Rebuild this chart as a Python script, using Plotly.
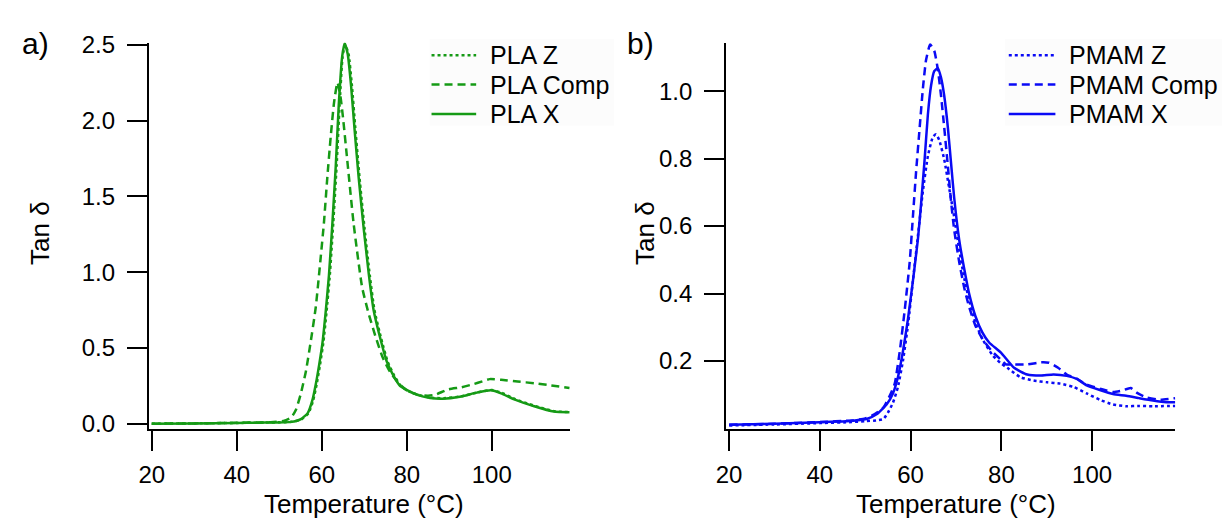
import plotly.graph_objects as go

# ---------------- data ----------------
# Panel a) PLA
pla_x_t = [20, 30, 40, 45, 50, 52.8, 54, 55.1, 56.7, 57.8, 58.6, 59.4, 60.2, 60.9, 61.7, 62.5,
           63.3, 64.0, 64.8, 65.4, 66.1, 66.9, 67.7, 68.7, 69.9, 71.1, 72.2, 73.8, 75.3, 76.9,
           78.4, 80.2, 82.5, 85.5, 88.5, 92.5, 96.5, 99.8, 102.2, 105.3, 110, 114.6, 118.3]
pla_x_v = [0.0, 0.002, 0.005, 0.007, 0.008, 0.012, 0.018, 0.03, 0.07, 0.155, 0.26, 0.39, 0.54, 0.73,
           0.98, 1.32, 1.70, 2.10, 2.42, 2.51, 2.44, 2.23, 1.95, 1.62, 1.28, 0.98, 0.75, 0.56, 0.41,
           0.315, 0.25, 0.22, 0.19, 0.17, 0.165, 0.178, 0.205, 0.22, 0.2, 0.16, 0.115, 0.08, 0.075]

pla_z_t = [20, 30, 40, 50, 53, 55.3, 56.9, 58.0, 58.8, 59.6, 60.4, 61.1, 61.9, 62.7, 63.5, 64.2,
           64.9, 65.5, 66.3, 67.1, 67.9, 68.9, 70.1, 71.3, 72.4, 74.0, 75.5, 77.1, 78.6, 80.4, 82.7,
           85.7, 88.7, 92.7, 96.7, 100, 102.4, 105.5, 110.2, 114.8, 118.3]
pla_z_v = [0.0, 0.002, 0.005, 0.009, 0.013, 0.03, 0.07, 0.155, 0.26, 0.39, 0.54, 0.73, 0.98, 1.32,
           1.70, 2.10, 2.42, 2.50, 2.44, 2.23, 1.95, 1.62, 1.28, 0.98, 0.75, 0.56, 0.41, 0.315, 0.25,
           0.215, 0.19, 0.172, 0.168, 0.18, 0.207, 0.222, 0.203, 0.162, 0.117, 0.082, 0.076]

pla_comp_t = [20, 30, 40, 48, 51, 52.8, 53.9, 55.1, 56.3, 57.4, 58.6, 59.8, 60.5, 61.3, 62.1, 62.9,
              63.7, 64.4, 65.0, 66.0, 67.5, 69.5, 71.0, 72.6, 74.3, 76.1, 78.0, 80.0, 82.7, 85.0,
              86.6, 89.7, 92.8, 95.6, 97.9, 99.5, 102.2, 106.1, 110, 113.9, 118.3]
pla_comp_v = [0.0, 0.002, 0.006, 0.01, 0.018, 0.04, 0.09, 0.2, 0.35, 0.54, 0.77, 1.11, 1.32, 1.62,
              1.89, 2.12, 2.25, 2.16, 2.02, 1.74, 1.32, 0.9, 0.73, 0.58, 0.44, 0.34, 0.27, 0.22,
              0.19, 0.185, 0.19, 0.226, 0.24, 0.26, 0.28, 0.294, 0.29, 0.278, 0.267, 0.253, 0.235]

# Panel b) PMAM
pmam_x_t = [20, 30, 40, 45, 47.3, 50.3, 52.5, 54.7, 56.1, 57.2, 58.3, 59.4, 60.5, 61.6, 62.3, 63.1,
            63.8, 64.5, 65.2, 66.0, 66.7, 67.4, 68.2, 68.9, 69.6, 70.7, 71.8, 72.9, 74.3, 75.8,
            77.3, 79.9, 82.8, 85.7, 88.6, 91.5, 94.4, 96.6, 98.8, 101.7, 104.6, 107.5, 110.4,
            113.4, 116.3, 118.3]
pmam_x_v = [0.011, 0.014, 0.0185, 0.021, 0.023, 0.028, 0.042, 0.071, 0.104, 0.152, 0.228, 0.323,
            0.437, 0.56, 0.665, 0.80, 0.93, 1.016, 1.059, 1.068, 1.04, 0.987, 0.893, 0.788, 0.684,
            0.56, 0.474, 0.399, 0.332, 0.285, 0.255, 0.225, 0.18, 0.16, 0.157, 0.16, 0.156, 0.147,
            0.128, 0.114, 0.102, 0.097, 0.09, 0.083, 0.078, 0.078]

pmam_comp_t = [20, 30, 40, 47, 50, 52, 54, 55.5, 56.5, 57.6, 58.7, 59.8, 60.5, 61.2, 62.0, 62.7,
               63.4, 64.3, 65.2, 66.0, 66.7, 67.4, 68.2, 68.9, 69.6, 70.7, 71.8, 72.9, 74.3, 75.8,
               78.0, 79.8, 81.0, 82.8, 85.7, 88.6, 90.5, 92.5, 94.4, 96.6, 98.8, 101.7, 104.6,
               106.5, 108.5, 110, 112, 115, 118.3]
pmam_comp_v = [0.011, 0.014, 0.019, 0.024, 0.03, 0.042, 0.062, 0.1, 0.133, 0.228, 0.351, 0.494,
               0.627, 0.76, 0.893, 1.007, 1.092, 1.138, 1.12, 1.064, 0.987, 0.893, 0.779, 0.674,
               0.589, 0.494, 0.418, 0.36, 0.304, 0.266, 0.228, 0.205, 0.19, 0.19, 0.19, 0.196,
               0.195, 0.18, 0.16, 0.148, 0.13, 0.118, 0.108, 0.112, 0.12, 0.105, 0.092, 0.085, 0.09]

pmam_z_t = [20, 30, 40, 47, 50, 52.4, 54, 55.0, 56.1, 57.2, 58.3, 59.4, 60.5, 61.6, 62.7, 63.8,
            64.9, 65.6, 66.3, 67.4, 68.5, 69.6, 70.7, 71.8, 72.9, 74.3, 75.8, 78.0, 79.8, 81.3,
            84.2, 87.1, 90.1, 93.0, 95.9, 98.8, 101.7, 104.6, 107.5, 110.4, 113.4, 118.3]
pmam_z_v = [0.009, 0.012, 0.016, 0.019, 0.022, 0.024, 0.028, 0.047, 0.076, 0.123, 0.2, 0.304,
            0.437, 0.57, 0.703, 0.807, 0.864, 0.872, 0.855, 0.798, 0.712, 0.627, 0.531, 0.446,
            0.38, 0.313, 0.266, 0.218, 0.194, 0.18, 0.152, 0.142, 0.137, 0.133, 0.123, 0.104,
            0.085, 0.071, 0.066, 0.067, 0.066, 0.067]

x_ticks = [20, 40, 60, 80, 100]
y_ticks_a = [0.0, 0.5, 1.0, 1.5, 2.0, 2.5]
y_ticks_b = [0.2, 0.4, 0.6, 0.8, 1.0]

names_a = ["PLA Z", "PLA Comp", "PLA X"]
names_b = ["PMAM Z", "PMAM Comp", "PMAM X"]

# ---------------- styling ----------------
GREEN = "#159a15"
BLUE = "#0a0af5"
FONT = "Liberation Sans, Arial, sans-serif"
W, H = 1225, 525
DASHES = ["3px,3px", "8px,5px", "solid"]
LW = 2.5

fig = go.Figure()

def add(t, v, name, color, dash, xa, ya):
    fig.add_trace(go.Scatter(
        x=t, y=v, mode="lines", name=name, xaxis=xa, yaxis=ya, showlegend=False,
        line=dict(color=color, width=LW, dash=dash, shape="spline", smoothing=0.5),
        hoverinfo="skip"))

series_a = [(pla_z_t, pla_z_v), (pla_comp_t, pla_comp_v), (pla_x_t, pla_x_v)]
series_b = [(pmam_z_t, pmam_z_v), (pmam_comp_t, pmam_comp_v), (pmam_x_t, pmam_x_v)]
for (t, v), n, d in zip(series_a, names_a, DASHES):
    add(t, v, n, GREEN, d, "x", "y")
for (t, v), n, d in zip(series_b, names_b, DASHES):
    add(t, v, n, BLUE, d, "x2", "y2")

ax_common = dict(showline=True, linecolor="black", linewidth=2, ticks="outside", ticklen=20,
                 tickwidth=2, tickcolor="black", showgrid=False, zeroline=False,
                 tickfont=dict(family=FONT, size=24, color="black"))

ydom = [1 - 433 / H, 1 - 32 / H]
fig.update_layout(
    width=W, height=H, margin=dict(l=0, r=0, t=0, b=0),
    paper_bgcolor="white", plot_bgcolor="white",
    font=dict(family=FONT, color="black"),
    xaxis=dict(domain=[140 / W, 564.5 / W], range=[19.32, 118.39], anchor="y",
               tickvals=x_ticks, ticklabelstandoff=4, **ax_common),
    yaxis=dict(domain=ydom, range=[-0.0317, 2.5127], anchor="x",
               tickvals=y_ticks_a, tickformat=".1f", ticklabelstandoff=7, **ax_common),
    xaxis2=dict(domain=[722 / W, 1175 / W], range=[19.34, 118.35], anchor="y2",
                tickvals=x_ticks, ticklabelstandoff=4, **ax_common),
    yaxis2=dict(domain=ydom, range=[0.0, 1.1433], anchor="x2",
                tickvals=y_ticks_b, tickformat=".1f", ticklabelstandoff=7, **ax_common),
)

# ---------------- legends (drawn as key lines + text) ----------------
def legend(box, x0, x1, xt, names, color):
    fig.add_shape(type="rect", xref="paper", yref="paper", x0=box[0] / W, x1=box[2] / W,
                  y0=1 - box[3] / H, y1=1 - box[1] / H, fillcolor="#fcfcfc",
                  line=dict(width=0), layer="below")
    for i, (n, d) in enumerate(zip(names, DASHES)):
        yp = 1 - (45 + 30.5 * i) / H
        fig.add_shape(type="line", xref="paper", yref="paper", x0=x0 / W, x1=x1 / W, y0=yp, y1=yp,
                      line=dict(color=color, width=LW, dash=d))
        fig.add_annotation(text=n, x=xt / W, y=yp, xref="paper", yref="paper", xanchor="left",
                           yanchor="middle", showarrow=False,
                           font=dict(family=FONT, size=25, color="black"))

legend((423, 28, 609, 118), 425, 470, 482, names_a, GREEN)
legend((1003, 28, 1222, 118), 1007, 1054, 1066, names_b, BLUE)

ann = [
    dict(text="a)", x=10 / W, y=1 - 33 / H, xanchor="left", yanchor="middle", size=30),
    dict(text="b)", x=620 / W, y=1 - 33 / H, xanchor="left", yanchor="middle", size=30),
    dict(text="Temperature (°C)", x=357 / W, y=1 - 511 / H, xanchor="center", yanchor="middle", size=26),
    dict(text="Temperature (°C)", x=954 / W, y=1 - 511 / H, xanchor="center", yanchor="middle", size=26),
]
for a in ann:
    fig.add_annotation(text=a["text"], x=a["x"], y=a["y"], xref="paper", yref="paper",
                       xanchor=a["xanchor"], yanchor=a["yanchor"], showarrow=False,
                       font=dict(family=FONT, size=a["size"], color="black"))
for xp in (30, 640):
    fig.add_annotation(text="Tan δ", x=xp / W, y=1 - 230 / H, xref="paper", yref="paper",
                       xanchor="center", yanchor="middle", textangle=-90, showarrow=False,
                       font=dict(family=FONT, size=26, color="black"))

fig.write_html("out.html")
